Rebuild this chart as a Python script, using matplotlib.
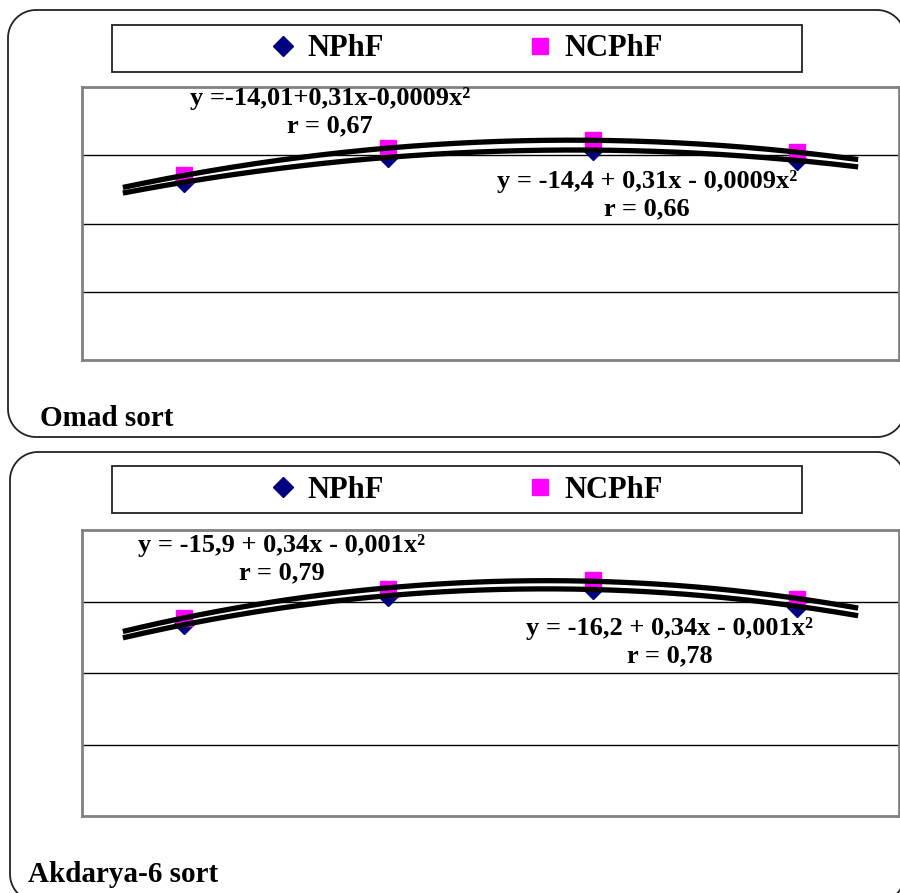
import numpy as np
import matplotlib
matplotlib.use("Agg")
import matplotlib.pyplot as plt
from matplotlib.patches import Rectangle, PathPatch
from matplotlib.path import Path
from matplotlib.lines import Line2D

plt.rcParams['font.family'] = ['Liberation Serif', 'DejaVu Serif']
plt.rcParams['font.weight'] = 'bold'

categories = ['1', '2', '3', '4']
series_names = ['NPhF', 'NCPhF']

omad_nphf = [-7.9, -0.6, 1.5, -1.5]
omad_ncphf = [-5.9, 2.1, 4.4, 0.9]
akd_nphf = [-6.4, 1.4, 3.6, -1.4]
akd_ncphf = [-4.5, 3.6, 5.9, 0.8]

omad_eq = ["y =-14,01+0,31x-0,0009x²\nr = 0,67", "y = -14,4 + 0,31x - 0,0009x²\nr = 0,66"]
akd_eq = ["y = -15,9 + 0,34x - 0,001x²\nr = 0,79", "y = -16,2 + 0,34x - 0,001x²\nr = 0,78"]
panel_titles = ['Omad sort', 'Akdarya-6 sort']

W, H = 900, 893
fig = plt.figure(figsize=(W / 100, H / 100), dpi=100)

FS_EQ = 19
FS_LEG = 22
FS_TITLE = 21
NAVY = '#000080'
MAG = '#ff00ff'


def fx(px):
    return px / W


def fy(py):
    return 1 - py / H


def rounded_rect(x0, y0, x1, y1, r):
    pts = []
    corners = [(x1 - r, y0 + r, -90), (x1 - r, y1 - r, 0),
               (x0 + r, y1 - r, 90), (x0 + r, y0 + r, 180)]
    for cx, cy, a0 in corners:
        for a in np.linspace(a0, a0 + 90, 20):
            t = np.radians(a)
            pts.append((fx(cx + r * np.cos(t)), fy(cy + r * np.sin(t))))
    pts.append(pts[0])
    return PathPatch(Path(pts), transform=fig.transFigure, fill=False,
                     edgecolor='#222222', lw=1.3, zorder=0)


fig.add_artist(rounded_rect(8, 10, 905, 437, 28))
fig.add_artist(rounded_rect(10, 452, 905, 902, 28))


def draw_panel(top, bottom, s1, s2, eqs, eqpos, legend_top, title, title_xy):
    ax = fig.add_axes([fx(82), fy(bottom), fx(899 - 82), (bottom - top) / H])
    x = np.arange(len(categories)) + 0.5
    ax.set_xlim(0, len(categories))
    ax.set_ylim(-60, 20)
    ax.set_yticks([-40, -20, 0])
    ax.set_xticks([])
    ax.tick_params(left=False, labelleft=False)
    ax.grid(axis='y', color='black', lw=1)
    for sp in ax.spines.values():
        sp.set_color('#808080')
        sp.set_linewidth(2)
    ax.plot(x, s1, ls='none', marker='D', ms=10, color=NAVY, zorder=3)
    ax.plot(x, s2, ls='none', marker='s', ms=11, color=MAG, zorder=3)
    xt = np.linspace(x[0] - 0.3, x[-1] + 0.3, 200)
    for s in (s1, s2):
        c = np.polyfit(x, s, 2)
        ax.plot(xt, np.polyval(c, xt), color='black', lw=3.8, zorder=4,
                solid_capstyle='butt')
    for txt, (px, py) in zip(eqs, eqpos):
        fig.text(fx(px), fy(py), txt, ha='center', va='center', fontsize=FS_EQ,
                 fontweight='bold', linespacing=1.25, zorder=6)
    fig.add_artist(Rectangle((fx(112), fy(legend_top + 47)), fx(802 - 112), 47 / H,
                             transform=fig.transFigure, fill=False,
                             edgecolor='#222222', lw=1.3))
    handles = [Line2D([], [], ls='none', marker='D', ms=10, color=NAVY),
               Line2D([], [], ls='none', marker='s', ms=12, color=MAG)]
    fig.legend(handles, series_names, loc='center',
               bbox_to_anchor=(fx(465), fy(legend_top + 24)), ncol=2,
               frameon=False, columnspacing=4.6, handletextpad=0.3,
               handlelength=1, prop={'size': FS_LEG, 'weight': 'bold'})
    fig.text(fx(title_xy[0]), fy(title_xy[1]), title, ha='left', va='center',
             fontsize=FS_TITLE, fontweight='bold')


draw_panel(87, 360, omad_nphf, omad_ncphf, omad_eq,
           [(330, 112), (647, 195)], 25, panel_titles[0], (40, 419))
draw_panel(530, 816, akd_nphf, akd_ncphf, akd_eq,
           [(282, 559), (670, 642)], 466, panel_titles[1], (28, 875))

fig.savefig('out.png', dpi=100)
